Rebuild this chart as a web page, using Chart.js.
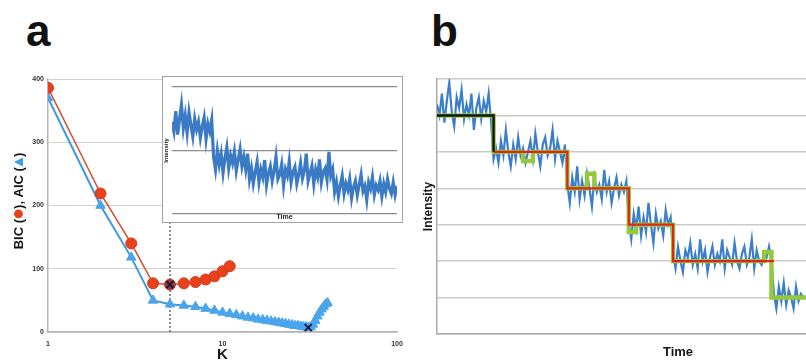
<!DOCTYPE html>
<html>
<head>
<meta charset="utf-8">
<script src="https://cdn.jsdelivr.net/npm/chart.js"></script>
<style>
  html, body { margin: 0; padding: 0; background: #fff; }
  body { width: 806px; height: 364px; overflow: hidden; position: relative; font-family: "Liberation Sans", Arial, sans-serif; }
  .letter { position: absolute; top: 9px; font: bold 44px "Liberation Sans", Arial, sans-serif; line-height: 44px; color: #111; }
  #wrapA { position: absolute; left: 0; top: 60px; }
  #wrapB { position: absolute; left: 415px; top: 60px; }
  #inset { position: absolute; left: 162px; top: 76px; width: 241px; height: 147px; border: 1.5px solid #a3a3a3; box-sizing: border-box; background: #fff; }
</style>
</head>
<body>
<div class="letter" style="left:26px">a</div>
<div class="letter" style="left:431px">b</div>
<div id="wrapA"><canvas id="chartA" width="415" height="304"></canvas></div>
<div id="inset"><canvas id="chartInset" width="238" height="144"></canvas></div>
<div id="wrapB"><canvas id="chartB" width="510" height="304"></canvas></div>

<script>
// panel a: information criteria vs number of states K
let kBIC = [1, 2, 3, 4, 5, 6, 7, 8, 9, 10, 11];
let bic = [386, 219, 140, 77, 75, 77, 79, 83, 88, 96, 104];
let kAIC = [1, 2, 3, 4, 5, 6, 7, 8, 9, 10, 11, 12, 13, 14, 15, 16, 17, 18, 19, 20,
            21, 22, 23, 24, 25, 26, 27, 28, 29, 30, 31, 32, 33, 34, 35, 36, 37, 38, 39, 40];
let aic = [370, 200, 118, 50, 44, 42, 40, 37, 34, 31, 29, 27, 25, 23, 22, 20, 19, 18, 17, 16,
           15, 14, 13, 12, 11, 10, 10, 9, 8, 8, 7, 8, 12, 18, 25, 31, 36, 40, 44, 46];
let bestK = [5, 31];
let bestVal = [75, 7];
let kTicks = [1, 10, 100];

// inset: raw trace
let insetTrace = [
  1.45, 1.3, 1.62, 1.25, 1.5, 1.72, 1.35, 1.55, 1.28, 1.6, 1.4, 1.22, 1.5, 1.33, 1.45, 1.2, 1.38, 1.52, 1.18, 1.42, 1.3, 1.48,
  0.9, 0.7, 1.0, 0.78, 0.95, 0.65, 0.88, 1.05, 0.72, 0.92, 0.8, 0.98, 0.68, 0.86, 1.02, 0.75, 0.9, 0.7, 0.95,
  0.55, 0.72, 0.48, 0.66, 0.82, 0.5, 0.7, 0.58, 0.85, 0.46, 0.64, 0.75, 0.52, 0.68, 0.9, 0.55, 0.62, 0.78, 0.45, 0.7,
  0.6, 0.83, 0.5, 0.66, 0.74, 0.48, 0.62, 0.8, 0.56, 0.68, 0.95, 0.52, 0.64, 0.76, 0.47, 0.7, 0.58, 0.86, 0.5, 0.66,
  0.72, 0.54, 0.98, 0.6, 0.7,
  0.35, 0.5, 0.28, 0.45, 0.6, 0.32, 0.48, 0.38, 0.55, 0.25, 0.42, 0.52, 0.3, 0.46, 0.62, 0.36, 0.44, 0.22, 0.5, 0.4,
  0.58, 0.3, 0.45, 0.38, 0.52, 0.28, 0.48, 0.35, 0.55, 0.4, 0.32, 0.5, 0.3, 0.44
];

// panel b: trace with step fits
let traceB = [
  6.3, 6.0, 6.6, 5.8, 6.4, 6.9, 6.1, 5.7, 6.5, 6.2, 6.7, 5.9, 6.3, 6.0, 6.6, 5.6, 6.2, 6.5, 5.9, 6.4, 6.1, 6.6, 5.8,
  4.8, 5.1, 4.7, 5.3, 4.9, 5.6, 5.0, 4.6, 5.2, 4.8, 5.4, 4.9, 5.1, 4.7, 5.0, 5.3, 4.8, 5.5, 5.0, 4.6, 5.2, 5.4, 4.9,
  5.1, 5.6, 4.8, 5.3, 5.0, 4.7, 5.2,
  4.1, 3.6, 4.3, 3.9, 4.6, 3.7, 4.2, 3.8, 4.4, 4.0, 3.5, 4.3, 3.9, 4.1, 3.7, 4.5, 3.9, 4.2, 3.6, 4.0, 4.3, 3.8, 4.1, 3.9, 4.2,
  3.1, 2.6, 3.3, 2.9, 3.5, 2.7, 3.2, 2.8, 3.6, 3.0, 2.5, 3.3, 2.9, 3.1, 2.7, 3.4, 3.0, 3.2,
  2.2, 1.8, 2.4, 2.0, 1.7, 2.3, 2.1, 2.5, 1.9, 2.2, 1.8, 2.6, 2.0, 2.3, 1.7, 2.1, 2.4, 1.9, 2.2, 2.0, 2.6, 1.8, 2.3, 2.1,
  1.9, 2.5, 2.0, 1.8, 2.2, 2.4, 1.9, 2.1, 2.6, 1.8, 2.3, 2.0, 1.9, 2.2, 2.1, 2.4, 2.0,
  1.1, 0.7, 1.3, 0.9, 1.4, 0.8, 1.2, 1.0, 0.7, 1.3, 0.9, 1.1, 1.0
];
let greenX = [0, 23, 35, 39, 53, 61, 64, 78, 81, 96, 133, 136, 150];
let greenY = [6, 5, 4.75, 5, 4, 4.4, 4, 2.8, 3, 2, 2.25, 1, 1];
let redX = [23, 53, 78, 96, 137];
let redY = [5, 4, 3, 2, 2];
let blackX = [0, 23, 23];
let blackY = [6, 6, 5];

const boldFont = (size) => ({ family: '"Liberation Sans", Arial, sans-serif', size: size, weight: 'bold' });

const pts = (xs, ys) => xs.map((x, i) => ({ x: x, y: ys[i] }));

// y title for panel a, with the circle and triangle symbols drawn in colour
const colorTitle = {
  id: 'colorTitle',
  afterDraw(chart) {
    const ctx = chart.ctx;
    const parts = ['BIC (', 'circle', '), AIC (', 'tri', ')'];
    const symW = 10;
    ctx.save();
    ctx.font = 'bold 13px "Liberation Sans", Arial, sans-serif';
    let total = 0;
    parts.forEach(p => total += (p === 'circle' || p === 'tri') ? symW : ctx.measureText(p).width);
    ctx.translate(19, 141);
    ctx.rotate(-Math.PI / 2);
    ctx.textBaseline = 'middle';
    let x = -total / 2;
    for (const p of parts) {
      if (p === 'circle') {
        ctx.beginPath();
        ctx.arc(x + symW / 2, -0.5, 4.4, 0, Math.PI * 2);
        ctx.fillStyle = '#e5401b';
        ctx.fill();
        x += symW;
      } else if (p === 'tri') {
        ctx.beginPath();
        ctx.moveTo(x + symW / 2, -5);
        ctx.lineTo(x + symW - 0.5, 4);
        ctx.lineTo(x + 0.5, 4);
        ctx.closePath();
        ctx.fillStyle = '#3f9be6';
        ctx.fill();
        x += symW;
      } else {
        ctx.fillStyle = '#151515';
        ctx.fillText(p, x, 0);
        x += ctx.measureText(p).width;
      }
    }
    ctx.restore();
  }
};

new Chart(document.getElementById('chartA'), {
  type: 'line',
  data: {
    datasets: [
      {
        type: 'scatter',
        data: pts(bestK, bestVal),
        pointStyle: 'crossRot',
        pointRadius: 5,
        borderColor: '#16163a',
        borderWidth: 1.8,
        showLine: false
      },
      {
        data: pts(kBIC, bic),
        borderColor: '#d9492b',
        borderWidth: 1.5,
        pointStyle: 'circle',
        pointRadius: 5.5,
        pointBackgroundColor: bic.map((v, i) => kBIC[i] === 5 ? '#8c3a3a' : '#e8421b'),
        pointBorderColor: '#cf3a1a',
        pointBorderWidth: 1
      },
      {
        data: pts(kAIC, aic),
        borderColor: '#3f98e0',
        borderWidth: 2,
        pointStyle: 'triangle',
        pointRadius: 5.5,
        pointBackgroundColor: '#4aa5ec',
        pointBorderColor: '#4aa5ec',
        pointBorderWidth: 1
      },
      {
        data: [{ x: 5, y: 0 }, { x: 5, y: 400 }],
        borderColor: '#555',
        borderWidth: 1.3,
        borderDash: [2, 2],
        pointRadius: 0
      }
    ]
  },
  options: {
    responsive: false,
    animation: false,
    layout: { padding: { top: 19, right: 18, left: 0, bottom: 0 } },
    plugins: { legend: { display: false }, tooltip: { enabled: false } },
    scales: {
      x: {
        type: 'logarithmic',
        min: 1,
        max: 100,
        grid: { display: false },
        border: { color: '#b5b5b5', width: 1.5 },
        afterBuildTicks: (scale) => { scale.ticks = kTicks.map(v => ({ value: v })); },
        afterFit: (scale) => { scale.height = 32; },
        ticks: { color: '#333', font: boldFont(7), padding: 0, maxRotation: 0, callback: (v) => String(v) },
        title: { display: true, text: 'K', color: '#151515', font: boldFont(15), padding: { top: 0, bottom: 0 } }
      },
      y: {
        min: 0,
        max: 400,
        afterFit: (scale) => { scale.width = 48; },
        grid: { color: '#d2d2d2', lineWidth: 1, drawTicks: false },
        border: { color: '#b5b5b5', width: 1.5 },
        ticks: { stepSize: 100, color: '#333', font: boldFont(7), padding: 4 }
      }
    }
  },
  plugins: [colorTitle]
});

new Chart(document.getElementById('chartInset'), {
  type: 'line',
  data: {
    labels: insetTrace.map((v, i) => i),
    datasets: [{
      data: insetTrace,
      borderColor: '#3b7bc6',
      borderWidth: 3.2,
      pointRadius: 0,
      tension: 0
    }]
  },
  options: {
    responsive: false,
    animation: false,
    layout: { padding: { top: 10, right: 4, left: 0, bottom: 0 } },
    plugins: { legend: { display: false }, tooltip: { enabled: false } },
    scales: {
      x: {
        type: 'linear',
        min: 0,
        max: 119,
        grid: { display: false },
        border: { display: false },
        ticks: { display: false },
        afterFit: (scale) => { scale.height = 7; },
        title: { display: true, text: 'Time', color: '#222', font: boldFont(7), padding: 0 }
      },
      y: {
        min: 0,
        max: 2,
        afterFit: (scale) => { scale.width = 9; },
        grid: { color: '#8c8c8c', lineWidth: 1.3, drawTicks: false },
        border: { display: false },
        ticks: { display: false, stepSize: 1 },
        title: { display: true, text: 'Intensity', color: '#222', font: boldFont(6), padding: 0 }
      }
    }
  }
});

new Chart(document.getElementById('chartB'), {
  type: 'line',
  data: {
    datasets: [
      {
        data: pts(blackX, blackY),
        borderColor: '#111',
        borderWidth: 2.4,
        pointRadius: 0
      },
      {
        data: pts(redX, redY),
        stepped: 'before',
        borderColor: '#e2231a',
        borderWidth: 2.2,
        pointRadius: 0
      },
      {
        data: pts(greenX, greenY),
        stepped: 'before',
        borderColor: '#94c83d',
        borderWidth: 4.4,
        pointRadius: 0
      },
      {
        data: traceB.map((v, i) => ({ x: i, y: v })),
        borderColor: '#3b7fcb',
        borderWidth: 2.2,
        pointRadius: 0,
        tension: 0
      }
    ]
  },
  options: {
    responsive: false,
    animation: false,
    layout: { padding: { top: 19, right: 6, left: 6, bottom: 0 } },
    plugins: { legend: { display: false }, tooltip: { enabled: false } },
    scales: {
      x: {
        type: 'linear',
        min: 0,
        max: 196,
        grid: { display: false },
        border: { color: '#aaa', width: 1.5 },
        ticks: { display: false },
        afterFit: (scale) => { scale.height = 30; },
        title: { display: true, text: 'Time', color: '#151515', font: boldFont(13), padding: { top: 0, bottom: 4 } }
      },
      y: {
        min: 0,
        max: 7,
        afterFit: (scale) => { scale.width = 16; },
        grid: { color: '#c9c9c9', lineWidth: 1.5, drawTicks: false },
        border: { color: '#aaa', width: 1.5 },
        ticks: { display: false, stepSize: 1 },
        title: { display: true, text: 'Intensity', color: '#151515', font: boldFont(12), padding: 0 }
      }
    }
  }
});
</script>
</body>
</html>
